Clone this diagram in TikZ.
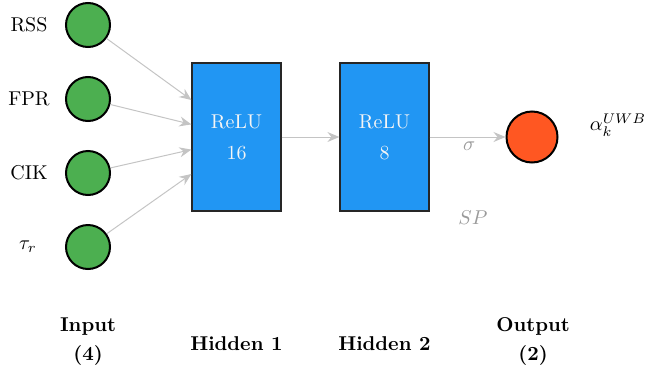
\documentclass[tikz,border=0pt]{standalone}
\usetikzlibrary{arrows.meta}
\definecolor{ingreen}{HTML}{4CAF50}
\definecolor{hidblue}{HTML}{2196F3}
\definecolor{outorange}{HTML}{FF5722}
\definecolor{arrgray}{HTML}{C4C4C4}
\definecolor{lblgray}{HTML}{9A9A9A}
\tikzset{
  neuron/.style={circle, draw=black, line width=1pt, minimum size=22pt, inner sep=0pt},
  inneuron/.style={neuron, fill=ingreen},
  outneuron/.style={neuron, fill=outorange, minimum size=25.5pt},
  hidbox/.style={rectangle, draw=black!85, line width=0.6pt, fill=hidblue, minimum width=44.5pt, minimum height=74pt, inner sep=0pt, text=white!92!gray, align=center},
  conn/.style={draw=arrgray, line width=0.5pt, -{Stealth[length=6pt,width=5pt,inset=2pt]}},
  layerlbl/.style={font=\bfseries, align=center},
}
\begin{document}
\begin{tikzpicture}[x=0.5pt,y=-0.5pt]
\useasboundingbox (0,0) rectangle (651,380);
% input neurons
\node[inneuron] (i1) at (88,25) {};
\node[inneuron] (i2) at (88,99) {};
\node[inneuron] (i3) at (88,173) {};
\node[inneuron] (i4) at (88,247) {};
\node (l1) at (29,25) {RSS};
\node (l2) at (29,99) {FPR};
\node (l3) at (29,173) {CIK};
\node (l4) at (28,247) {$\tau_r$};
% hidden layers
\node[hidbox] (h1) at (236.5,137) {ReLU\\[3.5pt]16};
\node[hidbox] (h2) at (384.5,137) {ReLU\\[3.5pt]8};
% output
\node[outneuron] (o1) at (532,137) {};
\node (ol) at (618,125) {$\alpha_k^{UWB}$};
% connectors
\draw[conn] (i1) -- ([yshift=18.5pt]h1.west);
\draw[conn] (i2) -- ([yshift=6.3pt]h1.west);
\draw[conn] (i3) -- ([yshift=-6.3pt]h1.west);
\draw[conn] (i4) -- ([yshift=-18.5pt]h1.west);
\draw[conn] (h1) -- (h2);
\draw[conn] (h2) -- node[pos=0.52, below=-1pt, text=lblgray] (sig) {$\sigma$} (o1);
\node[text=lblgray] (sp) at (473,218) {$SP$};
% layer labels
\node[layerlbl] (t1) at (88,341.5) {Input\\[2.5pt](4)};
\node[layerlbl] (t2) at (236.5,344) {Hidden 1};
\node[layerlbl] (t3) at (384.5,344) {Hidden 2};
\node[layerlbl] (t4) at (533,341.5) {Output\\[2.5pt](2)};
\end{tikzpicture}
\end{document}
